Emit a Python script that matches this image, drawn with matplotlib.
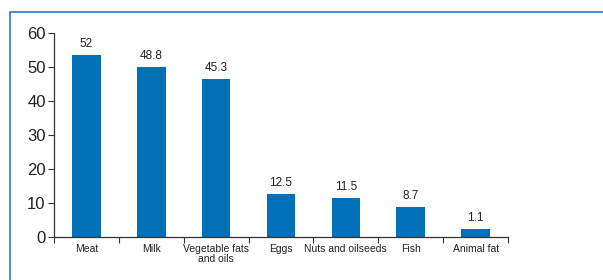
import matplotlib
matplotlib.use("Agg")
import matplotlib.pyplot as plt
from matplotlib.patches import Rectangle
import numpy as np

# categorias y valores
categorias = ["Meat", "Milk", "Vegetable fats\nand oils", "Eggs",
              "Nuts and oilseeds", "Fish", "Animal fat"]
alturas = [53.5, 50.0, 46.5, 12.6, 11.5, 8.8, 2.3]       # altura de las barras tal como se ven
etiquetas = ["52", "48.8", "45.3", "12.5", "11.5", "8.7", "1.1"]  # numeros impresos
y_ticks = [0, 10, 20, 30, 40, 50, 60]

plt.rcParams['font.family'] = ['Liberation Sans', 'DejaVu Sans']
azul = "#0070b8"

fig = plt.figure(figsize=(6.03, 2.80), dpi=100)
ax = fig.add_axes([54/603, 1-237/280, (508-54)/603, (237-33)/280])

x = np.arange(len(categorias))
ax.bar(x, alturas, width=0.44, color=azul)
for xi, h, t in zip(x, alturas, etiquetas):
    ax.text(xi, h + 1.4, t, ha="center", va="bottom", fontsize=8.5, color="#222222")

ax.set_xlim(-0.5, len(categorias) - 0.5)
ax.set_ylim(0, 60)
ax.set_yticks(y_ticks)
ax.set_yticklabels([str(v) for v in y_ticks], fontsize=12, color="#222222")

# ticks del eje x en los limites de cada categoria, etiquetas en el centro
ax.set_xticks(np.arange(len(categorias) + 1) - 0.5)
ax.set_xticklabels([])
ax.set_xticks(x, minor=True)
ax.set_xticklabels(categorias, minor=True, fontsize=7.5, color="#222222", linespacing=1.0)
ax.tick_params(axis="x", which="minor", length=0, pad=5)
ax.tick_params(axis="x", which="major", length=4, direction="out", color="#333333")
ax.tick_params(axis="y", length=4, direction="out", color="#333333", pad=2)

for s in ["top", "right"]:
    ax.spines[s].set_visible(False)
for s in ["left", "bottom"]:
    ax.spines[s].set_color("#333333")
    ax.spines[s].set_linewidth(0.9)

# marco azul que se corta a la derecha y abajo
fig.patches.append(Rectangle((10/603, -0.1), 1.2, 1 - 12/280 + 0.1, transform=fig.transFigure,
                             fill=False, edgecolor="#3a84c8", linewidth=1.3))

fig.savefig("out.png", dpi=100)
